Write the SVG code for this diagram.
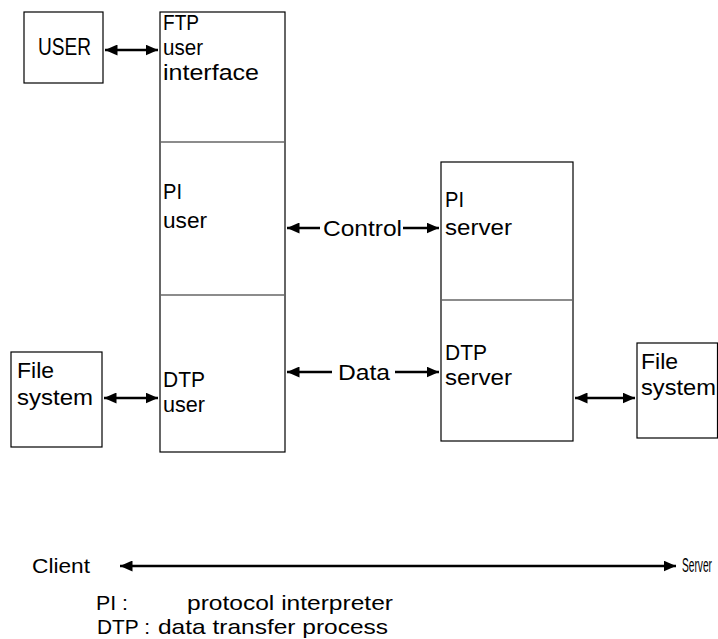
<svg xmlns="http://www.w3.org/2000/svg" width="718" height="639" viewBox="0 0 718 639">
<style>
.box{fill:#fff;stroke:#000;stroke-width:1.2}
.div{stroke:#666;stroke-width:1.5}
.t{font-family:"Liberation Sans",Arial,sans-serif;font-size:22px;fill:#000}
.u{font-family:"Liberation Sans",Arial,sans-serif;font-size:24px;fill:#000}
.l{font-family:"Liberation Sans",Arial,sans-serif;font-size:21px;fill:#000}
.s{font-family:"Liberation Sans",Arial,sans-serif;font-size:20px;fill:#000}
.c{stroke:#000;stroke-width:2.5;fill:none}
</style>
<defs>
<marker id="ah" viewBox="0 0 10 10" refX="10" refY="5" markerWidth="5" markerHeight="4.4" orient="auto-start-reverse" markerUnits="strokeWidth" preserveAspectRatio="none">
<path d="M0,0 L10,5 L0,10 z" fill="#000"/>
</marker>
</defs>
<g id="user">
<rect class="box" x="24" y="12" width="79" height="71"/>
<text class="u" x="38" y="55" textLength="53" lengthAdjust="spacingAndGlyphs">USER</text>
</g>
<g id="client">
<rect class="box" x="160" y="12" width="125" height="440"/>
<line class="div" x1="160" y1="142" x2="285" y2="142"/>
<line class="div" x1="160" y1="295" x2="285" y2="295"/>
<text class="t" x="163" y="30" textLength="36" lengthAdjust="spacingAndGlyphs">FTP</text>
<text class="t" x="163" y="55" textLength="40" lengthAdjust="spacingAndGlyphs">user</text>
<text class="t" x="163" y="80" textLength="96" lengthAdjust="spacingAndGlyphs">interface</text>
<text class="t" x="163" y="199" textLength="19" lengthAdjust="spacingAndGlyphs">PI</text>
<text class="t" x="163" y="228" textLength="44" lengthAdjust="spacingAndGlyphs">user</text>
<text class="t" x="163" y="387" textLength="42" lengthAdjust="spacingAndGlyphs">DTP</text>
<text class="t" x="163" y="412" textLength="42" lengthAdjust="spacingAndGlyphs">user</text>
</g>
<g id="server">
<rect class="box" x="441" y="162" width="132" height="279"/>
<line class="div" x1="441" y1="300" x2="573" y2="300"/>
<text class="t" x="445" y="207" textLength="19" lengthAdjust="spacingAndGlyphs">PI</text>
<text class="t" x="445" y="235" textLength="67" lengthAdjust="spacingAndGlyphs">server</text>
<text class="t" x="445" y="360" textLength="42" lengthAdjust="spacingAndGlyphs">DTP</text>
<text class="t" x="445" y="385" textLength="67" lengthAdjust="spacingAndGlyphs">server</text>
</g>
<g id="fs-left">
<rect class="box" x="11" y="352" width="91" height="95"/>
<text class="t" x="17" y="378" textLength="37" lengthAdjust="spacingAndGlyphs">File</text>
<text class="t" x="17" y="405" textLength="76" lengthAdjust="spacingAndGlyphs">system</text>
</g>
<g id="fs-right">
<rect class="box" x="637" y="343" width="80.5" height="95"/>
<text class="t" x="641" y="369" textLength="37" lengthAdjust="spacingAndGlyphs">File</text>
<text class="t" x="641" y="395" textLength="75" lengthAdjust="spacingAndGlyphs">system</text>
</g>
<g id="connectors">
<line class="c" x1="105" y1="50" x2="158" y2="50" marker-start="url(#ah)" marker-end="url(#ah)"/>
<line class="c" x1="287" y1="228" x2="320" y2="228" marker-start="url(#ah)"/>
<line class="c" x1="403" y1="228" x2="439" y2="228" marker-end="url(#ah)"/>
<text class="t" x="323" y="236" textLength="79" lengthAdjust="spacingAndGlyphs">Control</text>
<line class="c" x1="287" y1="372" x2="332" y2="372" marker-start="url(#ah)"/>
<line class="c" x1="395" y1="372" x2="439" y2="372" marker-end="url(#ah)"/>
<text class="t" x="338" y="380" textLength="52" lengthAdjust="spacingAndGlyphs">Data</text>
<line class="c" x1="104" y1="398" x2="158" y2="398" marker-start="url(#ah)" marker-end="url(#ah)"/>
<line class="c" x1="575" y1="398" x2="635" y2="398" marker-start="url(#ah)" marker-end="url(#ah)"/>
<line class="c" x1="120" y1="566" x2="676" y2="566" marker-start="url(#ah)" marker-end="url(#ah)"/>
</g>
<g id="legend">
<text class="s" x="32" y="573" textLength="58" lengthAdjust="spacingAndGlyphs">Client</text>
<text class="s" x="682" y="572" font-size="17" textLength="30" lengthAdjust="spacingAndGlyphs">Server</text>
<text class="l" x="96" y="610" textLength="32" lengthAdjust="spacingAndGlyphs">PI :</text>
<text class="l" x="187" y="610" textLength="206" lengthAdjust="spacingAndGlyphs">protocol interpreter</text>
<text class="l" x="97" y="634" textLength="53" lengthAdjust="spacingAndGlyphs">DTP :</text>
<text class="l" x="158" y="634" textLength="230" lengthAdjust="spacingAndGlyphs">data transfer process</text>
</g>
</svg>
